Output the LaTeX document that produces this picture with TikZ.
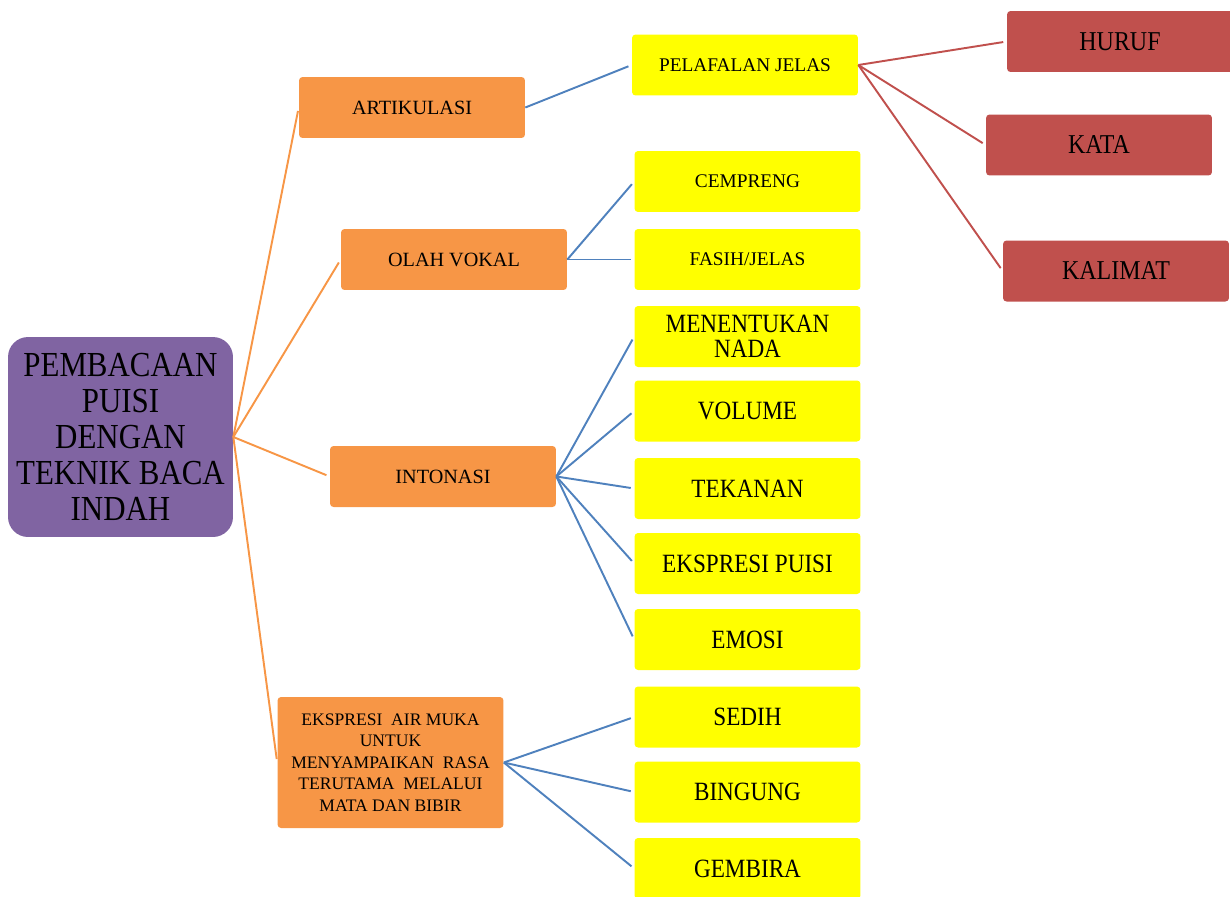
\documentclass[tikz,border=0pt]{standalone}
\usepackage{fontspec}
\setmainfont{Liberation Serif}
\newfontfamily\narrowserif[FakeStretch=0.88]{Liberation Serif}
\usetikzlibrary{positioning}
\definecolor{rootpurple}{HTML}{8064A2}
\definecolor{boxorange}{HTML}{F79646}
\definecolor{leafred}{HTML}{C0504D}
\definecolor{linkblue}{HTML}{4F81BD}
\definecolor{boxyellow}{HTML}{FFFF00}

\begin{document}
\begin{tikzpicture}[
  x=0.02cm, y=-0.02cm,
  box/.style={rounded corners=2pt, minimum width=4.52cm, minimum height=1.22cm,
    align=center, inner sep=2pt},
  topicbox/.style={box, fill=boxorange, font=\fontsize{11.5}{13}\selectfont},
  smallbox/.style={box, fill=boxyellow, font=\fontsize{11}{13}\selectfont},
  bigbox/.style={box, fill=boxyellow, font=\narrowserif\fontsize{15}{14}\selectfont},
  leafbox/.style={box, fill=leafred, font=\narrowserif\fontsize{15.5}{16}\selectfont},
  link/.style={line width=1.1pt, shorten >=0.07cm}
]
\useasboundingbox (0,0) rectangle (1230,896);

% Nodes
\node[box, rounded corners=0.4cm, fill=rootpurple, minimum width=4.5cm, minimum height=4cm,
  font=\narrowserif\fontsize{20}{20.5}\selectfont] (root) at (120.5,437)
  {PEMBACAAN\\PUISI\\DENGAN\\TEKNIK BACA\\INDAH};

\node[topicbox] (artikulasi) at (412,107.5) {ARTIKULASI};
\node[topicbox] (olahvokal) at (454,259.5) {OLAH VOKAL};
\node[topicbox] (intonasi) at (443,476.5) {INTONASI};
\node[topicbox, minimum height=2.62cm, font=\fontsize{10}{12.3}\selectfont] (ekspresi) at (390.5,762.5)
  {EKSPRESI\ \ AIR MUKA\\UNTUK\\MENYAMPAIKAN\ \ RASA\\TERUTAMA\ \ MELALUI\\MATA DAN BIBIR};

\node[smallbox] (pelafalan) at (745,65) {PELAFALAN JELAS};
\node[smallbox] (cempreng) at (747.5,181.5) {CEMPRENG};
\node[smallbox] (fasih) at (747.5,259.5) {FASIH/JELAS};
\node[bigbox] (nada) at (747.5,336.5) {MENENTUKAN\\NADA};
\node[bigbox] (volume) at (747.5,411) {VOLUME};
\node[bigbox] (tekanan) at (747.5,488.5) {TEKANAN};
\node[bigbox] (ekspuisi) at (747.5,563.5) {EKSPRESI PUISI};
\node[bigbox] (emosi) at (747.5,639.5) {EMOSI};
\node[bigbox] (sedih) at (747.5,717) {SEDIH};
\node[bigbox] (bingung) at (747.5,792) {BINGUNG};
\node[bigbox] (gembira) at (747.5,868.5) {GEMBIRA};

\node[leafbox] (huruf) at (1120,41.5) {HURUF};
\node[leafbox] (kata) at (1099,145) {KATA};
\node[leafbox] (kalimat) at (1116,271) {KALIMAT};

% Connectors
\foreach \t in {artikulasi,olahvokal,intonasi,ekspresi}
  \draw[link, boxorange] (root.east) -- (\t.west);

\draw[link, linkblue] (artikulasi.east) -- (pelafalan.west);
\foreach \t in {cempreng,fasih}
  \draw[link, linkblue] (olahvokal.east) -- (\t.west);
\foreach \t in {nada,volume,tekanan,ekspuisi,emosi}
  \draw[link, linkblue] (intonasi.east) -- (\t.west);
\foreach \t in {sedih,bingung,gembira}
  \draw[link, linkblue] (ekspresi.east) -- (\t.west);

\foreach \t in {huruf,kata,kalimat}
  \draw[link, leafred] (pelafalan.east) -- (\t.west);

\end{tikzpicture}
\end{document}
